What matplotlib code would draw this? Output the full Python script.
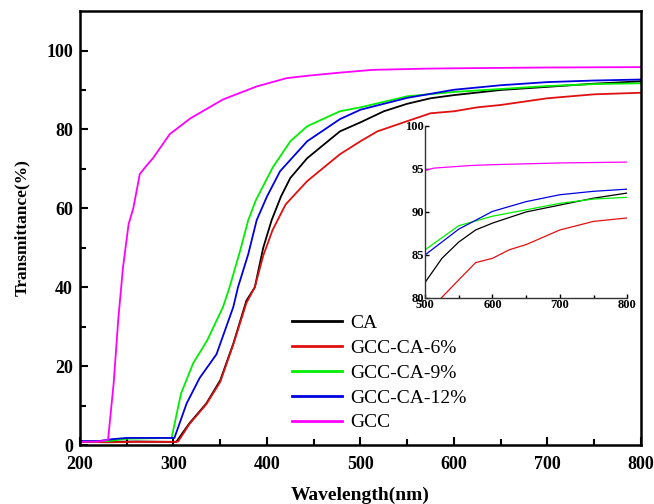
import numpy as np
import matplotlib.pyplot as plt

plt.rcParams['font.family'] = ['Liberation Serif', 'DejaVu Serif']

# 数据
wl_ca = [200, 230, 260, 300, 303, 317, 335, 350, 364, 378, 387, 396, 405, 415, 425, 443,
         478, 500, 525, 550, 575, 600, 650, 700, 750, 800]
t_ca = [0.8, 0.8, 0.9, 0.8, 0.8, 5.5, 10.5, 16.4, 25.7, 36.6, 40, 50, 57, 63, 67.7, 72.7,
        79.5, 81.8, 84.6, 86.5, 87.9, 88.7, 90.0, 90.8, 91.6, 92.2]

wl_6 = [200, 230, 260, 300, 305, 317, 335, 350, 364, 378, 387, 396, 406, 420, 443,
        478, 500, 518, 550, 575, 600, 625, 650, 700, 750, 800]
t_6 = [0.8, 0.7, 0.8, 0.8, 0.9, 5.3, 10.3, 16.0, 25.5, 36.0, 40, 48, 54.5, 61, 66.9,
       73.7, 77, 79.5, 82.1, 84.1, 84.6, 85.6, 86.2, 87.9, 88.9, 89.3]

wl_9 = [200, 230, 250, 298, 308, 321, 336, 353, 360, 371, 380, 388, 406, 425, 443,
        478, 500, 550, 600, 650, 700, 750, 800]
t_9 = [0.9, 1.0, 1.6, 1.8, 13, 20.7, 26.5, 35, 40, 49, 57, 62, 70.3, 77, 80.8,
       84.6, 85.6, 88.4, 89.5, 90.25, 91.0, 91.5, 91.7]

wl_12 = [200, 220, 235, 250, 301, 314, 328, 346, 364, 369, 380, 389, 400, 414, 443,
         478, 500, 550, 600, 650, 700, 750, 800]
t_12 = [1.0, 1.0, 1.5, 1.8, 1.8, 10.5, 17, 23, 35, 40, 48.4, 57, 63, 69.4, 77,
        82.6, 85.0, 88.0, 90.06, 91.2, 92.0, 92.4, 92.65]

wl_gcc = [200, 220, 230, 236, 241, 246, 252, 257, 264, 270, 278, 296, 318, 353, 389, 421,
          443, 478, 513, 567, 600, 700, 800]
t_gcc = [0.8, 0.9, 1.3, 15.6, 32, 45, 56, 60, 68.7, 70.5, 72.7, 78.8, 82.8, 87.6, 90.9, 93.0,
         93.6, 94.4, 95.1, 95.4, 95.5, 95.7, 95.8]

series = [(wl_ca, t_ca, 'CA', 'black'),
          (wl_6, t_6, 'GCC-CA-6%', '#e01010'),
          (wl_9, t_9, 'GCC-CA-9%', '#00ee00'),
          (wl_12, t_12, 'GCC-CA-12%', '#0000e0'),
          (wl_gcc, t_gcc, 'GCC', '#ff00ff')]

fig = plt.figure(figsize=(6.54, 5.04), dpi=100)
ax = fig.add_axes([0.1223, 0.117, 0.8577, 0.861])

for wl, t, lab, c in series:
    ax.plot(wl, t, color=c, lw=1.3, label=lab)

ax.set_xlim(200, 800)
ax.set_ylim(0, 110)
ax.set_xticks([200, 300, 400, 500, 600, 700, 800])
ax.set_xticks([250, 350, 450, 550, 650, 750], minor=True)
ax.set_yticks([0, 20, 40, 60, 80, 100])
ax.set_yticks([10, 30, 50, 70, 90], minor=True)
ax.tick_params(which='both', direction='in', width=1.5, labelsize=13)
ax.tick_params(which='major', length=6)
ax.tick_params(which='minor', length=4)
ax.tick_params(axis='x', pad=8)
ax.tick_params(axis='y', pad=5)
for lb in ax.get_xticklabels() + ax.get_yticklabels():
    lb.set_fontweight('bold')
for s in ax.spines.values():
    s.set_linewidth(1.8)

ax.set_xlabel('Wavelength(nm)', fontsize=14, fontweight='bold', labelpad=10)
ax.set_ylabel('Transmittance(%)', fontsize=12.5, fontweight='bold', labelpad=12)

leg = ax.legend(loc='upper left', bbox_to_anchor=(0.36, 0.323), frameon=False,
                fontsize=14, handlelength=2.6, handletextpad=0.4, labelspacing=0.37,
                borderpad=0)
for ln in leg.get_lines():
    ln.set_linewidth(2)

# 插图
ins = fig.add_axes([0.650, 0.409, 0.309, 0.341])
for wl, t, lab, c in series:
    ins.plot(wl, t, color=c, lw=0.9)
ins.set_xlim(500, 800)
ins.set_ylim(80, 100)
ins.set_xticks([500, 600, 700, 800])
ins.set_xticks([550, 650, 750], minor=True)
ins.set_yticks([80, 85, 90, 95, 100])
ins.spines['top'].set_visible(False)
ins.spines['right'].set_visible(False)
for s in ['left', 'bottom']:
    ins.spines[s].set_linewidth(1.0)
    ins.spines[s].set_color('#333333')
ins.tick_params(which='both', direction='in', width=1, labelsize=9, pad=1)
ins.tick_params(which='major', length=3)
ins.tick_params(which='minor', length=2)
for lb in ins.get_xticklabels() + ins.get_yticklabels():
    lb.set_fontweight('bold')

fig.savefig('out.png', dpi=100)
